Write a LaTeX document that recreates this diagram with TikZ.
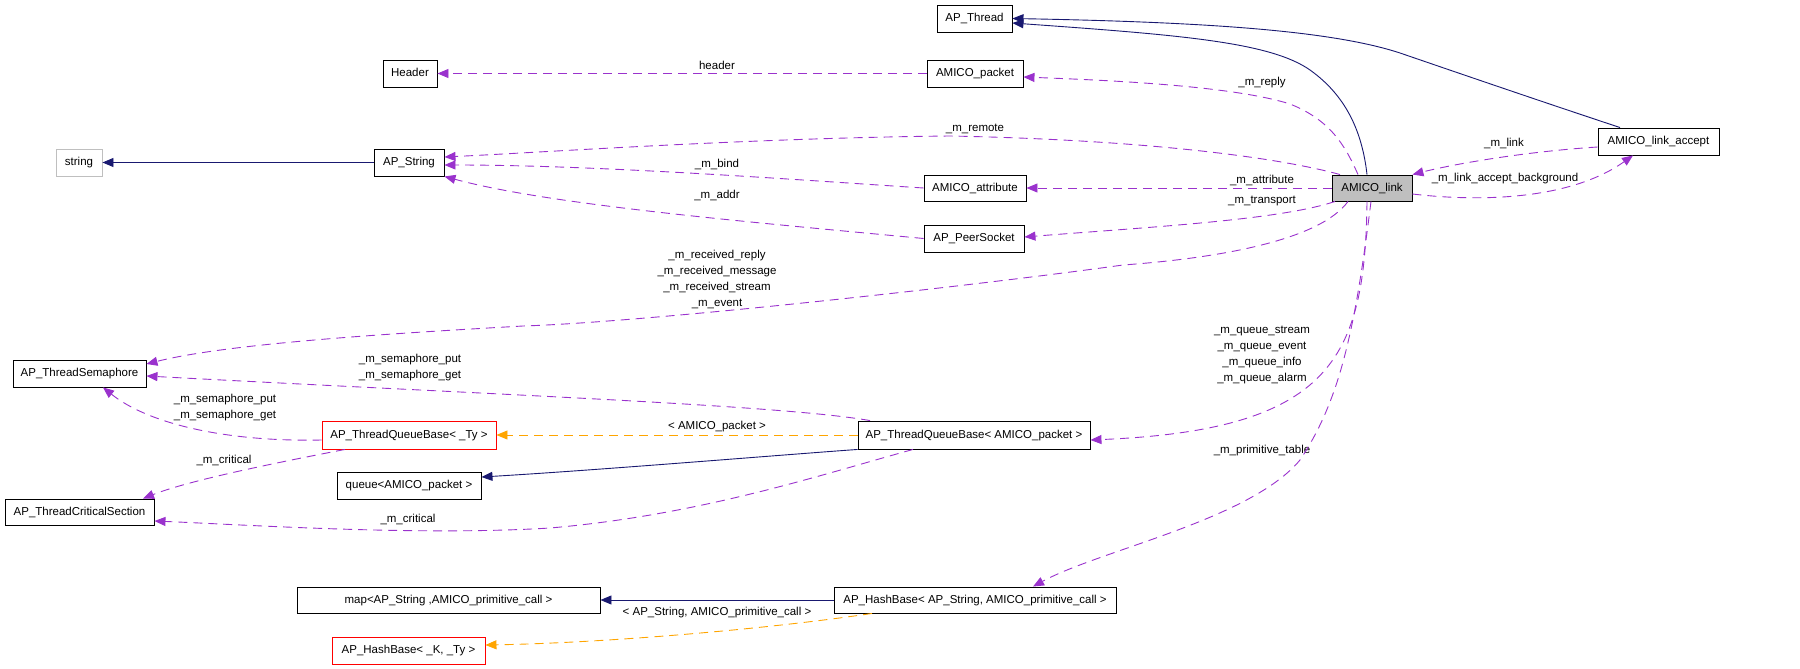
\documentclass[tikz,border=0pt]{standalone}
\usepackage{fontspec}
\setmainfont{Liberation Sans}
\usetikzlibrary{arrows.meta}
\definecolor{inhblue}{HTML}{191970}
\definecolor{usepurple}{HTML}{9A32CD}
\definecolor{tmplorange}{HTML}{FFA500}
\definecolor{boxgray}{HTML}{BFBFBF}
\newcommand{\fsz}{\fontsize{11.5}{16}\selectfont}
\begin{document}
\begin{tikzpicture}[x=1pt,y=-1pt,
  cls/.style={draw=black, line width=0.9pt, inner sep=0pt, minimum height=27pt,
              text height=8.5pt, text depth=2.5pt, font=\fsz},
  redcls/.style={cls, draw=red},
  lbl/.style={inner sep=0pt, font=\fsz, align=center},
  inh/.style={draw=inhblue, line width=0.9pt, -{Triangle[length=11pt,width=9pt]}},
  use/.style={draw=usepurple, line width=0.9pt, dash pattern=on 9pt off 6pt, -{Triangle[length=11pt,width=9pt]}},
  tmpl/.style={draw=tmplorange, line width=0.9pt, dash pattern=on 9pt off 6pt, -{Triangle[length=11pt,width=9pt]}}
]
\useasboundingbox (0,0) rectangle (1800,669);

% nodes
\node[cls, draw=boxgray, minimum width=46pt] (string) at (79,162.5) {string};
\node[cls, minimum width=70pt] (APString) at (409,162.5) {AP\_String};
\node[cls, minimum width=54pt] (Header) at (410,73.5) {Header};
\node[cls, minimum width=75pt] (APThread) at (974.5,18.5) {AP\_Thread};
\node[cls, minimum width=96pt] (packet) at (975,73.5) {AMICO\_packet};
\node[cls, minimum width=102pt, minimum height=26pt] (attr) at (975,188) {AMICO\_attribute};
\node[cls, minimum width=100pt] (peer) at (974,238.5) {AP\_PeerSocket};
\node[cls, fill=boxgray, minimum width=80pt, minimum height=26pt] (link) at (1372,188) {AMICO\_link};
\node[cls, minimum width=121pt] (accept) at (1658.5,141.5) {AMICO\_link\_accept};
\node[cls, minimum width=133pt] (sem) at (79.5,373.5) {AP\_ThreadSemaphore};
\node[redcls, minimum width=174pt, minimum height=28pt] (tqbty) at (409,435) {AP\_ThreadQueueBase< \_Ty >};
\node[cls, minimum width=232pt, minimum height=28pt] (tqbam) at (974,435) {AP\_ThreadQueueBase< AMICO\_packet >};
\node[cls, minimum width=149pt, minimum height=26pt] (crit) at (79.5,512) {AP\_ThreadCriticalSection};
\node[cls, minimum width=144pt] (queue) at (409,485.5) {queue<AMICO\_packet >};
\node[cls, minimum width=303pt, minimum height=26pt] (map) at (448.5,600) {map<AP\_String ,AMICO\_primitive\_call >};
\node[cls, minimum width=282pt, minimum height=26pt] (hbap) at (975,600) {AP\_HashBase< AP\_String, AMICO\_primitive\_call >};
\node[redcls, minimum width=153pt] (hbk) at (408.5,650.5) {AP\_HashBase< \_K, \_Ty >};

% labels
\node[lbl] (lheader) at (717,65) {header};
\node[lbl] (lreply) at (1262,83) {\_m\_reply};
\node[lbl] (lremote) at (975,129) {\_m\_remote};
\node[lbl] (lbind) at (717,164) {\_m\_bind};
\node[lbl] (laddr) at (717,195) {\_m\_addr};
\node[lbl] (lattr) at (1262,180) {\_m\_attribute};
\node[lbl] (ltrans) at (1262,201) {\_m\_transport};
\node[lbl] (llink) at (1504,143) {\_m\_link};
\node[lbl] (lbg) at (1505,179) {\_m\_link\_accept\_background};
\node[lbl] (lrecv) at (717,279) {\_m\_received\_reply\\\_m\_received\_message\\\_m\_received\_stream\\\_m\_event};
\node[lbl] (lsem1) at (410,368) {\_m\_semaphore\_put\\\_m\_semaphore\_get};
\node[lbl] (lsem2) at (225,408) {\_m\_semaphore\_put\\\_m\_semaphore\_get};
\node[lbl] (lamp) at (717,427) {< AMICO\_packet >};
\node[lbl] (lcrit1) at (224,460) {\_m\_critical};
\node[lbl] (lcrit2) at (408,519) {\_m\_critical};
\node[lbl] (lqueue) at (1262,355) {\_m\_queue\_stream\\\_m\_queue\_event\\\_m\_queue\_info\\\_m\_queue\_alarm};
\node[lbl] (lprim) at (1262,451) {\_m\_primitive\_table};
\node[lbl] (lhash) at (717,613) {< AP\_String, AMICO\_primitive\_call >};

% inheritance
\draw[inh] (APString.west) -- (string.east);
\draw[inh] ([xshift=-5pt]link.north) .. controls (1362,130) and (1345,95) .. (1310,70)
   .. controls (1270,42) and (1180,35) .. ([yshift=-4.5pt]APThread.east);
\draw[inh] ([xshift=-38.5pt]accept.north) .. controls (1540,101) and (1470,77) .. (1400,53)
   .. controls (1330,30) and (1200,22) .. (APThread.east);
\draw[inh] (tqbam.south west) .. controls (780,455) and (600,470) .. ([yshift=8.5pt]queue.east);
\draw[inh] (hbap.west) -- (map.east);

% usage
\draw[use] (packet.west) -- (Header.east);
\draw[use] ([xshift=-14pt]link.north) .. controls (1345,145) and (1330,120) .. (1290,104)
   .. controls (1230,85) and (1100,80) .. ([yshift=-3.5pt]packet.east);
\draw[use] ([xshift=-32pt]link.north) .. controls (1280,158) and (1150,140) .. (950,136)
   .. controls (750,138) and (550,152) .. ([yshift=5.5pt]APString.east);
\draw[use] (attr.west) .. controls (800,180) and (600,165) .. ([yshift=-2.5pt]APString.east);
\draw[use] (peer.west) .. controls (750,222) and (550,205) .. (APString.south east);
\draw[use] (link.west) -- (attr.east);
\draw[use] ([xshift=-37pt]link.south) .. controls (1280,220) and (1150,227) .. ([yshift=1.5pt]peer.east);
\draw[use] ([xshift=-24pt]link.south) .. controls (1320,240) and (1220,258) .. (1123,265)
   .. controls (980,285) and (650,322) .. (523,326)
   .. controls (400,333) and (230,343) .. ([yshift=9.5pt]sem.east);
\draw[use] ([xshift=-104pt]tqbam.north) .. controls (780,405) and (500,395) .. ([yshift=-2.5pt]sem.east);
\draw[use] ([yshift=-5pt]tqbty.west) .. controls (230,442) and (150,425) .. ([xshift=23.5pt]sem.south);
\draw[use] ([xshift=-64pt]tqbty.south) .. controls (280,462) and (190,480) .. ([xshift=63.5pt]crit.north);
\draw[use] ([xshift=-61pt]tqbam.south) .. controls (820,475) and (700,515) .. (550,528)
   .. controls (420,536) and (250,525) .. ([yshift=-9pt]crit.east);
\draw[use] ([xshift=-5pt]link.south) .. controls (1365,360) and (1330,430) .. ([yshift=-5pt]tqbam.east);
\draw[use] ([xshift=-1pt]link.south) .. controls (1355,330) and (1340,400) .. (1300,460)
   .. controls (1250,520) and (1100,550) .. ([xshift=58pt]hbap.north);
\draw[use] ([yshift=-5.5pt]accept.west) .. controls (1520,152) and (1450,165) .. (link.north east);
\draw[use] ([yshift=-6pt]link.east) .. controls (1480,202) and (1570,200) .. ([xshift=-25.5pt]accept.south);

% template instances
\draw[tmpl] (tqbam.west) -- (tqbty.east);
\draw[tmpl] ([xshift=-103pt]hbap.south) .. controls (760,630) and (600,643) .. ([yshift=5.5pt]hbk.east);
\end{tikzpicture}
\end{document}
